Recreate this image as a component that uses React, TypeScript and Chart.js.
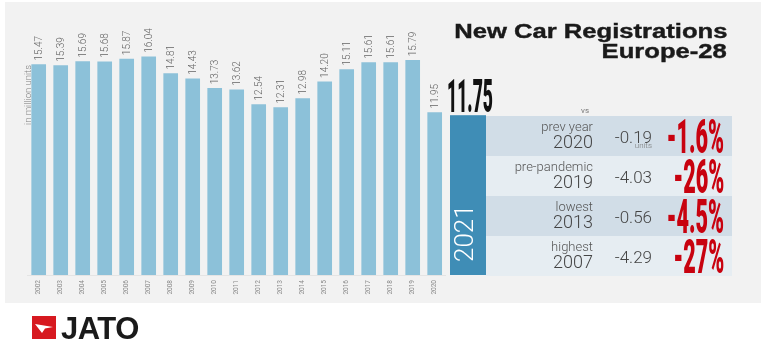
import React, { useEffect, useRef } from 'react';
import { Chart, registerables } from 'chart.js';

Chart.register(...registerables);

// ---- data ----
const years = ['2002', '2003', '2004', '2005', '2006', '2007', '2008', '2009', '2010', '2011', '2012', '2013', '2014', '2015', '2016', '2017', '2018', '2019', '2020'];
const registrations = [15.47, 15.39, 15.69, 15.68, 15.87, 16.04, 14.81, 14.43, 13.73, 13.62, 12.54, 12.31, 12.98, 14.2, 15.11, 15.61, 15.61, 15.79, 11.95];
const year2021 = '2021';
const value2021 = 11.75;
const compLabels = ['prev year', 'pre-pandemic', 'lowest', 'highest'];
const compYears = ['2020', '2019', '2013', '2007'];
const compDiffs = ['-0.19', '-4.03', '-0.56', '-4.29'];
const compPcts = ['-1.6%', '-26%', '-4.5%', '-27%'];

const FONT = 'Roboto, "Open Sans", sans-serif';
const TITLE_FONT = '"Liberation Sans", Arial, sans-serif';

export default function App() {
  const ref = useRef<HTMLCanvasElement>(null);

  useEffect(() => {
    const canvas = ref.current;
    if (!canvas) return;

    const valueLabels = {
      id: 'valueLabels',
      afterDatasetsDraw(chart: any) {
        const ctx = chart.ctx;
        const meta = chart.getDatasetMeta(0);
        ctx.save();
        ctx.font = `300 10px ${FONT}`;
        ctx.fillStyle = '#666666';
        ctx.textAlign = 'left';
        ctx.textBaseline = 'middle';
        meta.data.forEach((bar: any, i: number) => {
          ctx.save();
          ctx.translate(bar.x, bar.y - 4);
          ctx.rotate(-Math.PI / 2);
          ctx.fillText(registrations[i].toFixed(2), 0, 0.5);
          ctx.restore();
        });
        ctx.restore();
      },
    };

    const box2021 = {
      id: 'box2021',
      afterDatasetsDraw(chart: any) {
        const { ctx } = chart;
        const y = chart.scales.y;
        const top = y.getPixelForValue(value2021);
        const bottom = y.getPixelForValue(0);
        const left = 450;
        const right = 486;
        ctx.save();
        ctx.fillStyle = '#3f8db6';
        ctx.fillRect(left, top, right - left, bottom - top);
        // year label
        ctx.save();
        ctx.translate(473, bottom - 13);
        ctx.rotate(-Math.PI / 2);
        ctx.font = `300 26px ${FONT}`;
        ctx.fillStyle = '#ffffff';
        ctx.textAlign = 'left';
        ctx.textBaseline = 'alphabetic';
        ctx.fillText(year2021, 0, 0);
        ctx.restore();
        // value
        ctx.save();
        ctx.font = `900 47px ${FONT}`;
        const txt = value2021.toFixed(2);
        const w = ctx.measureText(txt).width;
        ctx.translate(447, top - 3);
        ctx.scale(46 / w, 1);
        ctx.fillStyle = '#111111';
        ctx.textAlign = 'left';
        ctx.textBaseline = 'alphabetic';
        ctx.fillText(txt, 0, 0);
        ctx.restore();
        ctx.restore();
      },
    };

    const chart = new Chart(canvas, {
      type: 'bar',
      data: {
        labels: years,
        datasets: [
          {
            data: registrations,
            backgroundColor: '#8cc1d9',
            barThickness: 14,
          },
        ],
      },
      options: {
        animation: false,
        responsive: false,
        devicePixelRatio: 1,
        layout: { padding: { left: 27.7, right: 322.3, top: 3, bottom: 61 } },
        plugins: { legend: { display: false }, tooltip: { enabled: false } },
        scales: {
          x: {
            grid: { display: false, drawTicks: false },
            border: { display: true, color: '#e4e4e4' },
            ticks: {
              maxRotation: 90,
              minRotation: 90,
              padding: 5,
              autoSkip: false,
              color: '#8a8a8a',
              font: { size: 6.5, family: FONT },
            },
            afterFit: (s: any) => {
              s.height = 25;
            },
          },
          y: { display: false, min: 0, max: 20 },
        },
      },
      plugins: [valueLabels, box2021],
    } as any);

    return () => chart.destroy();
  }, []);

  const abs = (extra: React.CSSProperties): React.CSSProperties => ({
    position: 'absolute',
    lineHeight: 1,
    whiteSpace: 'nowrap',
    ...extra,
  });

  return (
    <div style={{ position: 'absolute', left: 0, top: 0, width: 768, height: 361, background: '#ffffff', overflow: 'hidden' }}>
      <div style={{ position: 'absolute', left: 5, top: 2, width: 756, height: 301, background: '#f2f2f2' }} />

      {/* comparison table rows */}
      {compLabels.map((_, i) => (
        <div
          key={'row' + i}
          style={{
            position: 'absolute',
            left: 486,
            top: 116 + i * 40,
            width: 246,
            height: 40,
            background: i % 2 === 0 ? '#d1dde7' : '#e6edf2',
          }}
        />
      ))}

      <canvas ref={ref} width={768} height={361} style={{ position: 'absolute', left: 0, top: 0, width: 768, height: 361 }} />

      {/* title */}
      <div
        style={abs({
          right: 41,
          top: 20.7,
          fontFamily: TITLE_FONT,
          fontWeight: 700,
          fontSize: 20,
          color: '#1a1a1a',
          textAlign: 'right',
          transform: 'scaleX(1.28)',
          transformOrigin: 'right center',
          WebkitTextStroke: '0.4px #1a1a1a',
        })}
      >
        New Car Registrations
      </div>
      <div
        style={abs({
          right: 41,
          top: 40.7,
          fontFamily: TITLE_FONT,
          fontWeight: 700,
          fontSize: 20,
          color: '#1a1a1a',
          textAlign: 'right',
          transform: 'scaleX(1.28)',
          transformOrigin: 'right center',
          WebkitTextStroke: '0.4px #1a1a1a',
        })}
      >
        Europe-28
      </div>

      {/* y axis title */}
      <div
        style={abs({
          left: -22,
          top: 89,
          width: 100,
          height: 12,
          lineHeight: '12px',
          textAlign: 'center',
          fontFamily: FONT,
          fontWeight: 300,
          fontSize: 9.5,
          color: '#808080',
          transform: 'rotate(-90deg)',
        })}
      >
        in million units
      </div>

      {/* vs */}
      <div style={abs({ left: 581, top: 107, fontFamily: FONT, fontSize: 8, color: '#777' })}>vs</div>

      {compLabels.map((label, i) => {
        const t = 116 + i * 40;
        return (
          <React.Fragment key={'txt' + i}>
            <div style={abs({ right: 175, top: t + 4, fontFamily: FONT, fontWeight: 300, fontSize: 13, color: '#555' })}>{label}</div>
            <div style={abs({ right: 175, top: t + 17, fontFamily: FONT, fontWeight: 300, fontSize: 18, color: '#444' })}>{compYears[i]}</div>
            <div style={abs({ right: 116, top: t + 12.7, fontFamily: FONT, fontWeight: 300, fontSize: 17, color: '#444' })}>{compDiffs[i]}</div>
            {i === 0 && (
              <div style={abs({ right: 116, top: t + 26.3, fontFamily: FONT, fontWeight: 300, fontSize: 8, color: '#777' })}>units</div>
            )}
            <div
              style={abs({
                right: 44,
                top: t - 4.5,
                fontFamily: FONT,
                fontWeight: 900,
                fontSize: 49,
                color: '#c8020f',
                transform: 'scaleX(0.44)',
                transformOrigin: 'right center',
              })}
            >
              {compPcts[i]}
            </div>
          </React.Fragment>
        );
      })}

      {/* JATO logo */}
      <div style={{ position: 'absolute', left: 32, top: 316, width: 24, height: 23, background: '#d71920' }}>
        <svg width={24} height={23} viewBox="0 0 24 23" style={{ display: 'block' }}>
          <polygon points="3,8 21,11 13,12.5 10,17" fill="#ffffff" />
        </svg>
      </div>
      <div style={abs({ left: 61, top: 312.8, fontFamily: TITLE_FONT, fontWeight: 700, fontSize: 31, letterSpacing: -0.5, color: '#1a1a1a' })}>
        JATO
      </div>
    </div>
  );
}
